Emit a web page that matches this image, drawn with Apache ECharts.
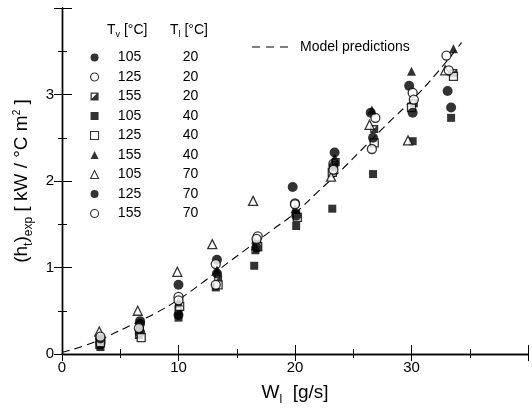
<!DOCTYPE html>
<html>
<head>
<meta charset="utf-8">
<script src="https://cdn.jsdelivr.net/npm/echarts@6/dist/echarts.min.js"></script>
<style>
  html, body { margin: 0; padding: 0; background: #fff; }
  #chart { width: 532px; height: 411px; }
</style>
</head>
<body>
<div id="chart"></div>
<script>
// Heat transfer coefficient vs. liquid flow rate, grouped by vapour / liquid temperature
const xTicks = [0, 10, 20, 30];
const yTicks = [0, 1, 2, 3];

// Legend rows: [Tv, Tl]
const tvValues = ['105', '125', '155', '105', '125', '155', '105', '125', '155'];
const tlValues = ['20', '20', '20', '40', '40', '40', '70', '70', '70'];

// Measured points [Wl (g/s), h (kW/°C m²)] for each temperature pair
const s105_20 = [[3.3, 0.12], [6.7, 0.35], [10.0, 0.80], [13.3, 1.09], [16.7, 1.28], [19.8, 1.93], [23.4, 2.33], [26.5, 2.79], [29.8, 3.10], [33.1, 3.04]];
const s125_20 = [[3.3, 0.15], [6.7, 0.25], [10.0, 0.66], [13.2, 1.04], [16.8, 1.36], [20.0, 1.74], [23.3, 2.20], [26.9, 2.73], [30.1, 3.02], [33.0, 3.45]];
const s155_20 = [[3.2, 0.10], [6.6, 0.22], [10.0, 0.50], [13.4, 0.87], [16.6, 1.20], [20.1, 1.62], [23.5, 2.22], [26.8, 2.60], [30.2, 2.90], [33.6, 3.25]];
const s105_40 = [[3.3, 0.08], [6.7, 0.27], [10.0, 0.42], [13.2, 0.77], [16.5, 1.02], [20.1, 1.48], [23.2, 1.68], [26.7, 2.08], [30.1, 2.46], [33.4, 2.73]];
const s125_40 = [[3.3, 0.13], [6.8, 0.19], [10.1, 0.55], [13.4, 0.80], [16.8, 1.24], [20.2, 1.58], [23.2, 2.10], [26.8, 2.44], [30.0, 2.85], [33.6, 3.21]];
const s155_40 = [[3.2, 0.22], [6.6, 0.32], [10.0, 0.60], [13.3, 0.97], [16.6, 1.25], [20.0, 1.68], [23.4, 2.27], [26.6, 2.82], [30.0, 3.27], [33.6, 3.53]];
const s105_70 = [[3.2, 0.26], [6.5, 0.50], [9.9, 0.95], [12.9, 1.27], [16.4, 1.77], [23.1, 2.05], [26.4, 2.65], [29.7, 2.47], [32.9, 3.28]];
const s125_70 = [[3.3, 0.18], [6.7, 0.38], [10.0, 0.45], [13.3, 0.93], [16.7, 1.23], [20.1, 1.60], [23.3, 2.17], [26.7, 2.50], [30.1, 2.79], [33.4, 2.85]];
const s155_70 = [[3.3, 0.20], [6.6, 0.30], [10.0, 0.62], [13.2, 0.80], [16.7, 1.33], [20.0, 1.73], [23.3, 2.13], [26.6, 2.37], [30.2, 2.94], [33.2, 3.28]];

// Model prediction curve
const modelX = [0, 2, 4, 6, 8, 10, 12, 14, 16, 18, 20, 22, 24, 26, 28, 30, 32, 34.3];
const modelY = [0.02, 0.10, 0.21, 0.34, 0.47, 0.63, 0.82, 1.03, 1.23, 1.43, 1.63, 1.88, 2.13, 2.40, 2.67, 2.93, 3.22, 3.60];

const FONT = 'Liberation Sans';
const INK = '#000';

const halfSquare = 'path://M0,0 L10,0 L10,10 L0,10 Z M1.6,1.6 L1.6,7.6 L7.6,1.6 Z';
// short dashed stroke used as the legend key of the model curve
const dashKey = 'path://M0,0 H8 V1 H0 Z M14,0 H22 V1 H14 Z M28,0 H36 V1 H28 Z';

const filled = { color: INK, borderColor: INK, borderWidth: 0 };
const hollow = { color: '#fff', borderColor: INK, borderWidth: 1.3 };

const groups = [
  { data: s105_20, symbol: 'circle', size: 10, style: filled },
  { data: s125_20, symbol: 'circle', size: 9, style: hollow },
  { data: s155_20, symbol: halfSquare, size: 8, style: filled },
  { data: s105_40, symbol: 'rect', size: 8, style: filled },
  { data: s125_40, symbol: 'rect', size: 8, style: hollow },
  { data: s155_40, symbol: 'triangle', size: 9, style: filled },
  { data: s105_70, symbol: 'triangle', size: 9, style: hollow },
  { data: s125_70, symbol: 'circle', size: 10, style: filled },
  { data: s155_70, symbol: 'circle', size: 9, style: hollow }
];

const seriesNames = groups.map((g, i) => 'T' + tvValues[i] + '_' + tlValues[i]);

const scatterSeries = groups.map((g, i) => ({
  name: seriesNames[i],
  type: 'scatter',
  data: g.data,
  symbol: g.symbol,
  symbolSize: g.size,
  itemStyle: g.style,
  z: 3
}));

const modelSeries = {
  name: 'Model predictions',
  type: 'line',
  data: modelX.map((x, i) => [x, modelY[i]]),
  smooth: true,
  showSymbol: false,
  symbol: 'none',
  lineStyle: { color: INK, width: 1.1, type: [8, 5] },
  itemStyle: { color: INK },
  z: 2
};

const subRich = {
  m: { fontSize: 19, fontFamily: FONT, color: INK, lineHeight: 26 },
  s: { fontSize: 12, fontFamily: FONT, color: INK, verticalAlign: 'bottom', lineHeight: 13 },
  p: { fontSize: 10, fontFamily: FONT, color: INK, verticalAlign: 'top', lineHeight: 10, padding: [3, 0, 0, 0] }
};

const legendRich = {
  a: { width: 52, align: 'center', fontSize: 14, fontFamily: FONT, color: INK },
  b: { width: 70, align: 'center', fontSize: 14, fontFamily: FONT, color: INK }
};

const hdrRich = {
  m: { fontSize: 14, fontFamily: FONT, color: INK, lineHeight: 18 },
  s: { fontSize: 9, fontFamily: FONT, color: INK, verticalAlign: 'bottom', lineHeight: 9 }
};

// legend keys: slightly smaller, thinner outlines than the plotted marks
const legendKeys = seriesNames.map((name, i) => {
  const hollowKey = groups[i].style === hollow;
  return {
    name: name,
    itemStyle: hollowKey ? { color: '#fff', borderColor: INK, borderWidth: 1.1 } : { color: INK, borderWidth: 0 }
  };
});

const chart = echarts.init(document.getElementById('chart'), null, { renderer: 'canvas' });

chart.setOption({
  backgroundColor: '#fff',
  animation: false,
  grid: { left: 62, right: 4, top: 8, bottom: 51, containLabel: false },
  xAxis: [
    {
      type: 'value', min: 0, max: 40, interval: 10, position: 'bottom',
      name: '{m|W}{s|l}{m|  [g/s]}', nameLocation: 'middle', nameGap: 26,
      nameTextStyle: { rich: subRich },
      axisLine: { show: true, lineStyle: { color: INK, width: 1.4 } },
      axisTick: { show: true, inside: true, length: 9, lineStyle: { color: INK, width: 1 } },
      minorTick: { show: true, splitNumber: 2, length: 5, lineStyle: { color: INK, width: 1 } },
      axisLabel: {
        color: INK, fontFamily: FONT, fontSize: 15, margin: 6,
        formatter: v => (xTicks.indexOf(v) >= 0 ? String(v) : '')
      },
      splitLine: { show: false }
    },
    {
      type: 'value', min: 0, max: 40, interval: 10, position: 'top',
      axisLine: { show: true, lineStyle: { color: INK, width: 1.4 } },
      axisTick: { show: true, inside: true, length: 7, lineStyle: { color: INK, width: 1 } },
      minorTick: { show: true, splitNumber: 2, length: 4, lineStyle: { color: INK, width: 1 } },
      axisLabel: { show: false },
      splitLine: { show: false }
    }
  ],
  yAxis: [
    {
      type: 'value', min: 0, max: 4, interval: 1, position: 'left',
      name: '{m|(h}{s|t}{m|)}{s|exp}{m| [ kW / °C m}{p|2}{m| ]}',
      nameLocation: 'middle', nameGap: 26, nameRotate: 90,
      nameTextStyle: { rich: subRich },
      axisLine: { show: true, lineStyle: { color: INK, width: 1.4 } },
      axisTick: { show: true, inside: true, length: 10, lineStyle: { color: INK, width: 1 } },
      minorTick: { show: true, splitNumber: 2, length: 5, lineStyle: { color: INK, width: 1 } },
      axisLabel: {
        color: INK, fontFamily: FONT, fontSize: 15, margin: 8,
        formatter: v => (yTicks.indexOf(v) >= 0 ? String(v) : '')
      },
      splitLine: { show: false }
    },
    {
      type: 'value', min: 0, max: 4, interval: 1, position: 'right',
      axisLine: { show: true, lineStyle: { color: INK, width: 1.4 } },
      axisTick: { show: true, inside: true, length: 8, lineStyle: { color: INK, width: 1 } },
      minorTick: { show: true, splitNumber: 2, length: 4, lineStyle: { color: INK, width: 1 } },
      axisLabel: { show: false },
      splitLine: { show: false }
    }
  ],
  legend: [
    {
      data: legendKeys,
      orient: 'vertical',
      left: 90, top: 50, padding: 0,
      itemWidth: 8, itemHeight: 8, itemGap: 4.5,
      selectedMode: false,
      textStyle: {
        lineHeight: 15,
        rich: legendRich
      },
      formatter: name => {
        const i = seriesNames.indexOf(name);
        return '{a|' + tvValues[i] + '}{b|' + tlValues[i] + '}';
      }
    },
    {
      data: [{ name: 'Model predictions', icon: dashKey, itemStyle: { color: INK, opacity: 1 } }],
      left: 252, top: 40, padding: 0,
      itemWidth: 36, itemHeight: 1.5,
      selectedMode: false,
      textStyle: { color: INK, fontFamily: FONT, fontSize: 14, padding: [0, 0, 0, 7] }
    }
  ],
  graphic: [
    {
      type: 'text', left: 107, top: 23,
      style: { text: '{m|T}{s|v}{m| [°C]}', rich: hdrRich }
    },
    {
      type: 'text', left: 170, top: 23,
      style: { text: '{m|T}{s|l}{m| [°C]}', rich: hdrRich }
    }
  ],
  series: [modelSeries].concat(scatterSeries)
});
</script>
</body>
</html>
